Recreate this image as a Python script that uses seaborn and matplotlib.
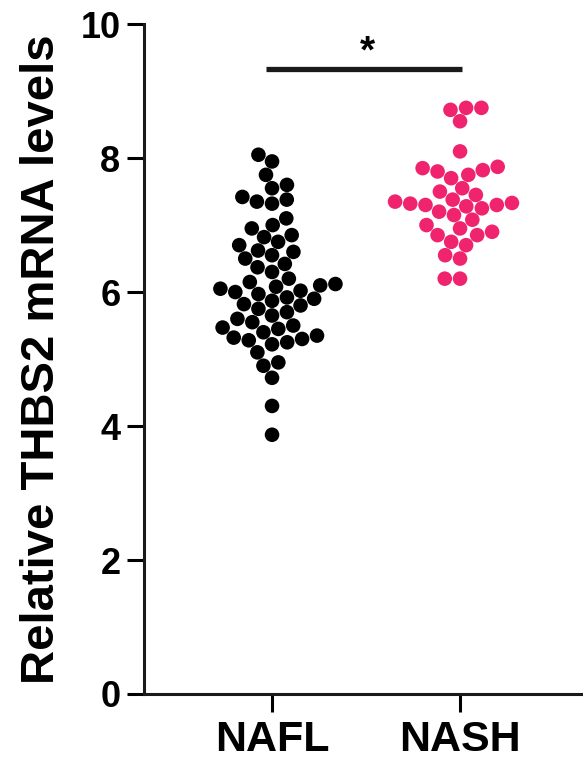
import numpy as np
import pandas as pd
import matplotlib
matplotlib.use("Agg")
import matplotlib.pyplot as plt
import seaborn as sns

# values
groups = ["NAFL", "NASH"]
nafl = [8.05, 7.95, 7.75, 7.6, 7.55, 7.42, 7.38, 7.35, 7.32, 7.1, 7.0, 6.95,
        6.85, 6.82, 6.75, 6.7, 6.62, 6.6, 6.55, 6.5, 6.42, 6.37, 6.3, 6.2,
        6.15, 6.12, 6.1, 6.08, 6.05, 6.02, 6.0, 5.97, 5.92, 5.9, 5.87, 5.82,
        5.8, 5.75, 5.7, 5.65, 5.6, 5.55, 5.5, 5.47, 5.45, 5.4, 5.35, 5.32,
        5.3, 5.28, 5.25, 5.22, 5.1, 4.95, 4.9, 4.72, 4.3, 3.87]
nash = [8.75, 8.72, 8.55, 8.75, 8.1, 7.87, 7.82, 7.85, 7.8, 7.75, 7.7,
        7.55, 7.5, 7.45, 7.38, 7.35, 7.33, 7.32, 7.3, 7.3, 7.28, 7.25,
        7.2, 7.15, 7.08, 7.0, 6.95, 6.9, 6.85, 6.85, 6.75, 6.7, 6.55,
        6.5, 6.2, 6.2]
colors = {"NAFL": "#000000", "NASH": "#f0246e"}

df = pd.DataFrame({
    "group": ["NAFL"] * len(nafl) + ["NASH"] * len(nash),
    "value": nafl + nash,
})

sns.set_style("ticks")
plt.rcParams["font.family"] = ["Liberation Sans", "DejaVu Sans"]
plt.rcParams["font.weight"] = "bold"
plt.rcParams["text.color"] = "black"
plt.rcParams["axes.labelcolor"] = "black"
plt.rcParams["xtick.color"] = "black"
plt.rcParams["ytick.color"] = "black"

fig = plt.figure(figsize=(5.83, 7.78), dpi=100)
ax = fig.add_axes([0.247, 0.108, 0.753, 0.861])

sns.swarmplot(data=df, x="group", y="value", hue="group", palette=colors,
              order=groups, size=10.5, ax=ax, legend=False, linewidth=0)

ax.set_xlim(-0.681, 1.654)
ax.set_ylim(0, 10)
ax.set_yticks([0, 2, 4, 6, 8, 10])
ax.set_xlabel("")
ax.set_ylabel("Relative THBS2 mRNA levels", fontsize=34, fontweight="bold",
              labelpad=12)

for side in ["top", "right"]:
    ax.spines[side].set_visible(False)
for side in ["left", "bottom"]:
    ax.spines[side].set_linewidth(2.2)
    ax.spines[side].set_color("#1a1a1a")

ax.tick_params(axis="y", labelsize=26, length=12, width=2.2, pad=5,
               colors="black")
ax.tick_params(axis="x", labelsize=31, length=13, width=2.2, pad=6,
               colors="black")
for lbl in ax.get_xticklabels() + ax.get_yticklabels():
    lbl.set_fontweight("bold")

# significance bar
ax.plot([-0.03, 1.01], [9.33, 9.33], color="#1a1a1a", lw=3.8,
        solid_capstyle="butt", clip_on=False)
ax.text(0.51, 9.58, "*", ha="center", va="center", fontsize=28,
        fontweight="bold")

fig.savefig("out.png", dpi=100)
